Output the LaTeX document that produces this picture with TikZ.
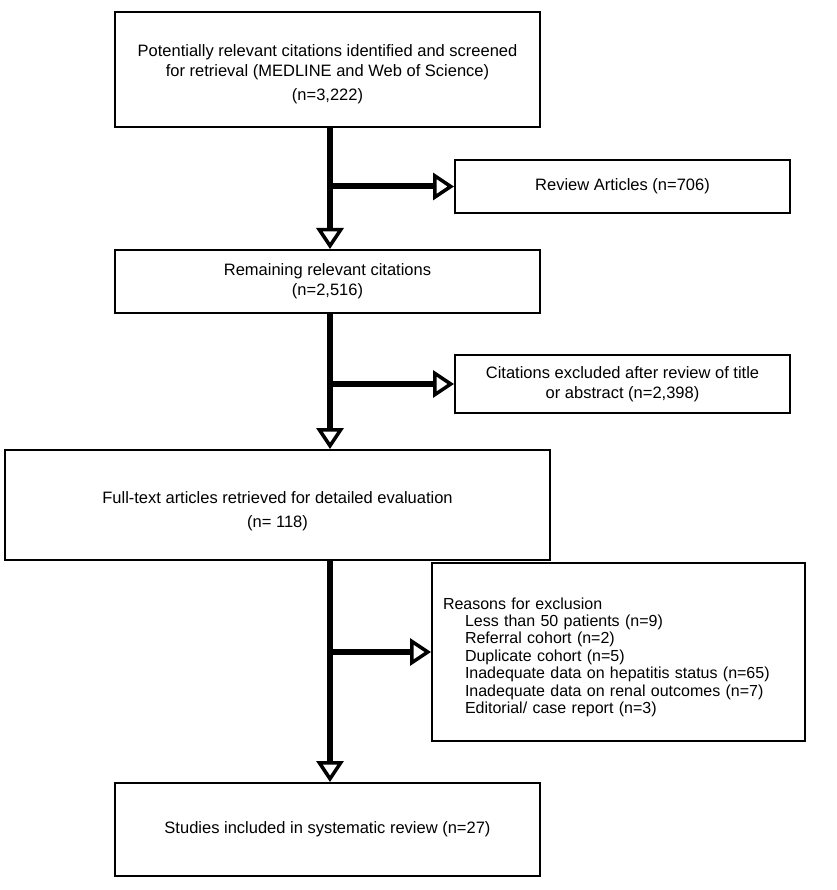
\documentclass[tikz,border=0pt]{standalone}
\usepackage{fontspec}
\setmainfont{Liberation Sans}
\usetikzlibrary{arrows.meta}
\begin{document}
\begin{tikzpicture}[x=1pt,y=-1pt,
  box/.style={draw, line width=2pt, align=center, inner sep=0pt,
    font=\fontsize{16.5}{20}\selectfont},
  flow/.style={line width=6pt,
    -{Triangle[open, length=21pt, width=27pt, line width=3.5pt]}},
  branch/.style={line width=6pt,
    -{Triangle[open, length=21pt, width=27pt, line width=3.5pt]}}]
\useasboundingbox (0,0) rectangle (836,890);
\fill[white] (0,0) rectangle (836,890);

\node[box, minimum width=425pt, minimum height=115pt] (b1) at (327.5,69.5)
  {\rule{0pt}{22pt}Potentially relevant citations identified and screened\\for retrieval (MEDLINE and Web of Science)\\[4pt](n=3,222)};
\node[box, minimum width=335pt, minimum height=53pt] (rev) at (622.5,186.5)
  {Review Articles (n=706)};
\node[box, minimum width=425pt, minimum height=63pt] (b2) at (327.5,281.5)
  {Remaining relevant citations\\(n=2,516)};
\node[box, minimum width=335pt, minimum height=58pt] (exc) at (622.5,384)
  {Citations excluded after review of title\\or abstract (n=2,398)};
\node[box, minimum width=545pt, minimum height=110pt] (b3) at (277.5,505)
  {\rule{0pt}{24pt}Full-text articles retrieved for detailed evaluation\\[4pt](n= 118)};
\node[box, align=left, text width=351pt, inner sep=11pt, minimum height=178pt,
  font=\fontsize{16}{17.4}\selectfont] (rea) at (618.5,652)
  {\rule{0pt}{22pt}Reasons for exclusion\\
   \hspace*{22pt}Less than 50 patients (n=9)\\
   \hspace*{22pt}Referral cohort (n=2)\\
   \hspace*{22pt}Duplicate cohort (n=5)\\
   \hspace*{22pt}Inadequate data on hepatitis status (n=65)\\
   \hspace*{22pt}Inadequate data on renal outcomes (n=7)\\
   \hspace*{22pt}Editorial/ case report (n=3)};
\node[box, minimum width=425pt, minimum height=93pt] (b4) at (327.5,829.5)
  {Studies included in systematic review (n=27)};

\coordinate (mx) at (330,0);
\coordinate (j1) at (330,186.5);
\coordinate (j2) at (330,384);
\coordinate (j3) at (330,652);

\draw[flow] (b1.south -| mx) -- (b2.north -| mx);
\draw[flow] (b2.south -| mx) -- (b3.north -| mx);
\draw[flow] (b3.south -| mx) -- (b4.north -| mx);
\draw[branch] (j1) -- (rev.west);
\draw[branch] (j2) -- (exc.west);
\draw[branch] (j3) -- (rea.west);
\end{tikzpicture}
\end{document}
